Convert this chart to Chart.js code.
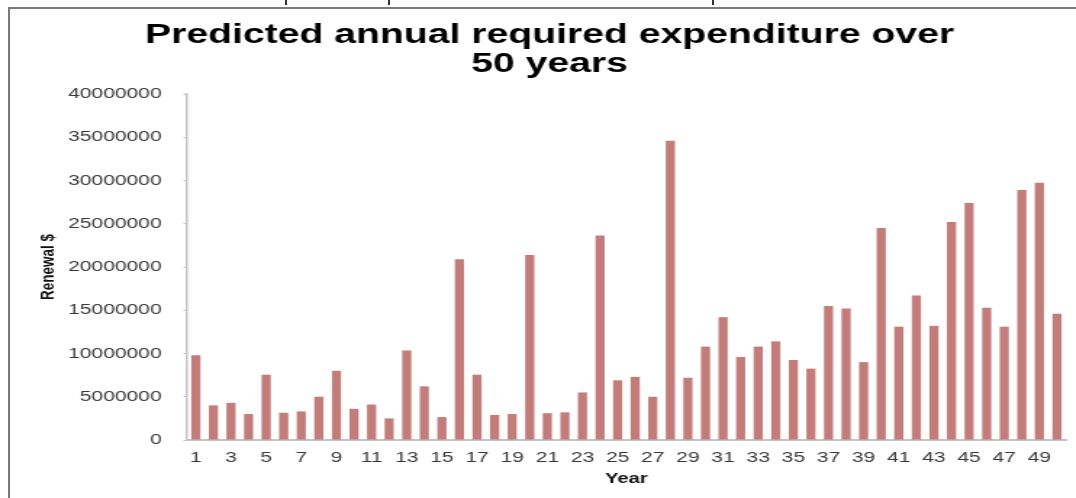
<!DOCTYPE html>
<html>
<head>
<meta charset="utf-8">
<script src="https://cdn.jsdelivr.net/npm/chart.js@4.4.0/dist/chart.umd.min.js"></script>
<style>
  html, body { margin: 0; padding: 0; background: #fff; overflow: hidden; width: 1076px; height: 498px; position: relative; }
  .line { position: absolute; background: #7a7a7a; }
  .mark { position: absolute; top: 0; width: 2px; height: 5px; background: #333; }
  /* the source picture is stretched sideways, so the chart is too */
  #wrap { position: absolute; left: 0; top: 0; width: 742px; height: 498px; overflow: hidden;
          transform: scaleX(1.45); transform-origin: 0 0; }
</style>
</head>
<body>
<div class="mark" style="left:285px"></div>
<div class="mark" style="left:388px"></div>
<div class="mark" style="left:712px"></div>
<div class="line" style="left:8px; top:7px; width:1068px; height:2px;"></div>
<div class="line" style="left:8px; top:7px; width:2px; height:491px;"></div>
<div id="wrap"><canvas id="myBarChart" width="742" height="498"></canvas></div>
<script>
// Données
var years = ['1', '2', '3', '4', '5', '6', '7', '8', '9', '10',
             '11', '12', '13', '14', '15', '16', '17', '18', '19', '20',
             '21', '22', '23', '24', '25', '26', '27', '28', '29', '30',
             '31', '32', '33', '34', '35', '36', '37', '38', '39', '40',
             '41', '42', '43', '44', '45', '46', '47', '48', '49', '50'];

var renewal = [9800000, 4000000, 4300000, 3000000, 7550000, 3150000, 3300000, 5000000, 8000000, 3600000,
               4100000, 2500000, 10350000, 6200000, 2650000, 20900000, 7550000, 2900000, 3000000, 21400000,
               3100000, 3200000, 5500000, 23650000, 6900000, 7300000, 5000000, 34600000, 7200000, 10800000,
               14200000, 9600000, 10800000, 11400000, 9250000, 8250000, 15500000, 15200000, 9000000, 24500000,
               13100000, 16700000, 13200000, 25200000, 27400000, 15300000, 13100000, 28900000, 29750000, 14600000];

var yTicks = [0, 5000000, 10000000, 15000000, 20000000, 25000000, 30000000, 35000000, 40000000];

var titleLines = ['Predicted annual required expenditure over', '50 years'];

var family = '"Liberation Sans", Arial, sans-serif';

var ctx = document.getElementById('myBarChart').getContext('2d');
var myBarChart = new Chart(ctx, {
    type: 'bar',
    data: {
        labels: years,
        datasets: [{
            label: 'Renewal $',
            data: renewal,
            backgroundColor: '#c27c7a',
            borderWidth: 0,
            barPercentage: 0.52,
            categoryPercentage: 1.0
        }]
    },
    options: {
        responsive: false,
        animation: false,
        layout: { padding: { left: 23, right: 7, top: 0, bottom: 0 } },
        plugins: {
            legend: { display: false },
            tooltip: { enabled: false },
            title: {
                display: true,
                text: titleLines,
                color: '#000',
                font: { family: family, size: 27, weight: 'bold', lineHeight: 29 / 27 },
                padding: { top: 21.5, bottom: 14.5 }
            }
        },
        scales: {
            x: {
                grid: { display: false, drawTicks: false },
                border: { display: true, color: '#c4c4c4', width: 2 },
                ticks: {
                    autoSkip: false,
                    maxRotation: 0,
                    minRotation: 0,
                    padding: 9,
                    color: '#3a3a3a',
                    font: { family: family, size: 14.5 },
                    callback: function (value, index) {
                        return index % 2 === 0 ? years[index] : '';
                    }
                },
                title: {
                    display: true,
                    text: 'Year',
                    color: '#111',
                    font: { family: family, size: 14, weight: 'bold' },
                    padding: { top: 0, bottom: 10.6 }
                },
                afterFit: function (scale) { scale.height = 58; }
            },
            y: {
                min: 0,
                max: 40000000,
                afterBuildTicks: function (scale) {
                    scale.ticks = yTicks.map(function (v) { return { value: v }; });
                },
                grid: { drawOnChartArea: false, drawTicks: true, tickLength: 2.5, color: '#c4c4c4' },
                border: { display: true, color: '#c4c4c4', width: 1.5 },
                ticks: {
                    padding: 15,
                    color: '#3a3a3a',
                    font: { family: family, size: 14.5 },
                    callback: function (value) { return String(value); }
                },
                title: {
                    display: true,
                    text: 'Renewal $',
                    color: '#111',
                    font: { family: family, size: 13.5, weight: 'bold' },
                    padding: { top: 2, bottom: 0 }
                },
                afterFit: function (scale) { scale.width = 106; }
            }
        }
    }
});
</script>
</body>
</html>
